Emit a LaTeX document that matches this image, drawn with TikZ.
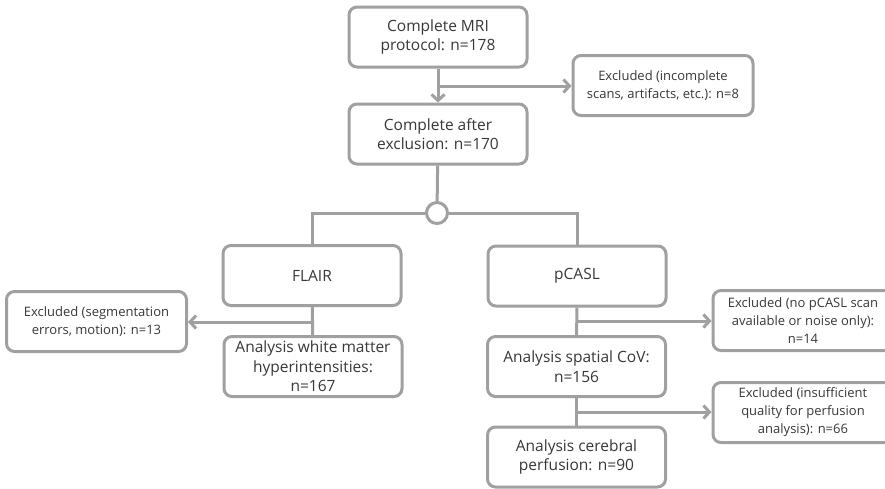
\documentclass[tikz,border=0pt]{standalone}
\usepackage{fontspec}
\setmainfont{Open Sans}
\usetikzlibrary{arrows.meta,positioning,calc}
\definecolor{linegray}{HTML}{A0A0A0}
\definecolor{textgray}{HTML}{383838}

\begin{document}
\begin{tikzpicture}[x=1pt,y=-1pt,
    box/.style={draw=linegray, line width=3pt, rounded corners=8pt, fill=white,
      text=textgray, align=center, minimum width=178pt, minimum height=60pt,
      inner sep=1pt, font=\fontsize{15.5}{19.5}\selectfont},
    exbox/.style={box, minimum width=180pt, font=\fontsize{13}{18}\selectfont},
    link/.style={draw=linegray, line width=3pt},
    arr/.style={link, -{Straight Barb[length=6pt,width=13pt,line width=3pt]}}]

    \useasboundingbox (0,0) rectangle (885,488);

    % main column
    \node[box] (proto) at (438,37) {Complete MRI\\protocol: n=178};
    \node[box] (compl) at (438,134) {Complete after\\exclusion: n=170};
    \node[exbox] (exScan) at (663,85.5) {Excluded (incomplete\\scans, artifacts, etc.): n=8};

    % split point
    \node[circle, draw=linegray, line width=3pt, fill=white, minimum size=21pt, inner sep=0pt] (split) at (437,213) {};

    % FLAIR branch
    \node[box] (flair) at (312,275.5) {FLAIR};
    \node[box] (wmh) at (313,366.5) {Analysis white matter\\hyperintensities:\\n=167};
    \node[exbox] (exSeg) at (96.5,321.5) {Excluded (segmentation\\errors, motion): n=13};

    % pCASL branch
    \node[box] (pcasl) at (577,276) {pCASL};
    \node[box] (cov) at (576.5,366.5) {Analysis spatial CoV:\\n=156};
    \node[box] (cbf) at (576.5,457) {Analysis cerebral\\perfusion: n=90};
    \node[exbox] (exNoise) at (803,320.5) {Excluded (no pCASL scan\\available or noise only):\\n=14};
    \node[exbox] (exQual) at (803,412.5) {Excluded (insufficient\\quality for perfusion\\analysis): n=66};

    % branch points
    \coordinate (b1) at (438,86);
    \coordinate (b2) at (312,322);
    \coordinate (b3) at (577,321);
    \coordinate (b4) at (577,412);

    \draw[arr] (proto) -- (compl);
    \draw[arr] (b1) -- (exScan.west |- b1);
    \draw[link] (compl) -- (split);
    \draw[link] (split) -| (flair);
    \draw[link] (split) -| (pcasl);

    \draw[link] (flair) -- (wmh);
    \draw[arr] (b2) -- (exSeg.east |- b2);

    \draw[link] (pcasl) -- (cov);
    \draw[arr] (b3) -- (exNoise.west |- b3);
    \draw[link] (cov) -- (cbf);
    \draw[arr] (b4) -- (exQual.west |- b4);
\end{tikzpicture}
\end{document}
